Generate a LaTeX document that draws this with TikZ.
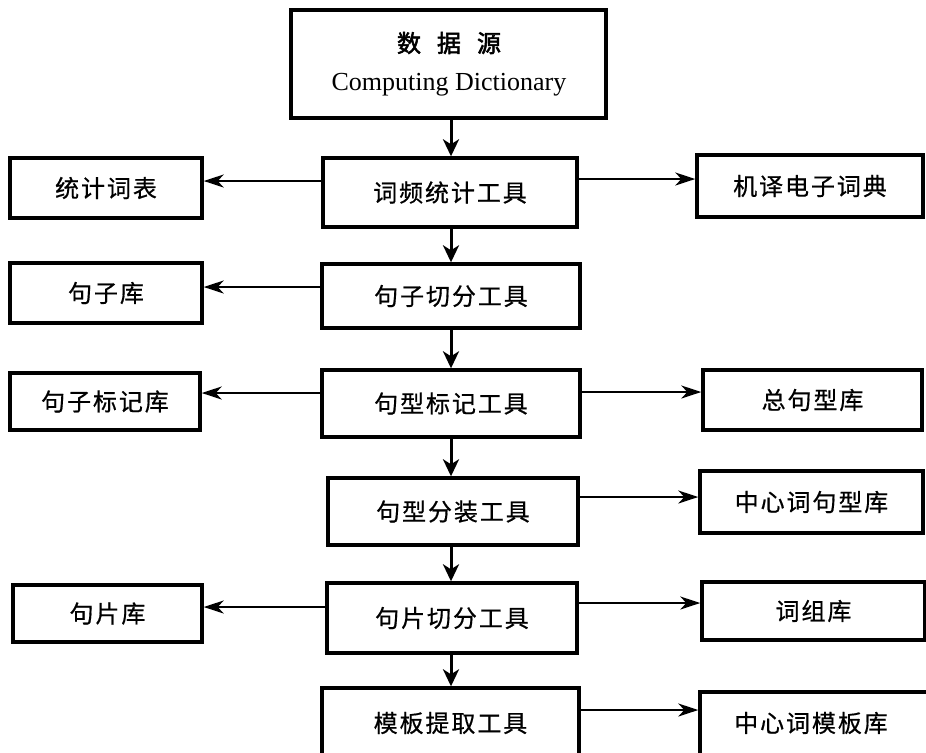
\documentclass[tikz,border=0pt]{standalone}
\usepackage{fontspec}
\setmainfont{Liberation Serif}
\newfontfamily\cjk[LetterSpace=8,FakeBold=0.6]{Noto Sans CJK SC}
\newfontfamily\cjkb[FakeBold=2.2]{Noto Sans CJK SC}
\usetikzlibrary{arrows.meta}
\begin{document}
\begin{tikzpicture}[x=0.5pt,y=-0.5pt,
  bx/.style n args={2}{draw, line width=1.7pt, inner sep=0pt,
    minimum width=#1*0.5pt, minimum height=#2*0.5pt,
    font=\fontsize{12}{14}\selectfont\cjk},
  lbl/.style={font=\fontsize{12}{14}\selectfont\cjk},
  harr/.style={-{Stealth[length=10pt,width=6.5pt,inset=3pt]}, line width=1pt},
  varr/.style={-{Stealth[length=8.5pt,width=8pt,inset=2.5pt]}, line width=1.5pt}]
\useasboundingbox (0,0) rectangle (926,752);
\fill[white] (0,0) rectangle (926,752);
% main column
\node[bx={315}{108}] (src) at (448.5,64) {};
\node[font=\fontsize{12}{14}\selectfont\cjkb] (srct) at (449,43) {数\hspace{8pt}据\hspace{8pt}源};
\node[font=\fontsize{13}{15}\selectfont] (srce) at (449,85) {Computing Dictionary};
\node[bx={254}{69}] (t1) at (450,192.5) {词频统计工具};
\node[bx={258}{64}] (t2) at (451,296) {句子切分工具};
\node[bx={258}{67}] (t3) at (451,403.5) {句型标记工具};
\node[bx={250}{67}] (t4) at (453,511.5) {句型分装工具};
\node[bx={250}{70}] (t5) at (452,618) {句片切分工具};
\node[bx={257}{74}] (t6) at (450.5,725) {};
\node[lbl] (t6t) at (450.5,723) {模板提取工具};
% left column
\node[bx={192}{60}] (l1) at (106,188) {统计词表};
\node[bx={192}{60}] (l2) at (106,293) {句子库};
\node[bx={190}{57}] (l3) at (105,401.5) {句子标记库};
\node[bx={189}{57}] (l5) at (107.5,613.5) {句片库};
% right column
\node[bx={226}{62}] (r1) at (810,186) {机译电子词典};
\node[bx={219}{60}] (r3) at (812.5,400) {总句型库};
\node[bx={223}{62}] (r4) at (811.5,502) {中心词句型库};
\node[bx={223}{58}] (r5) at (813.5,611) {词组库};
\node[bx={228}{74}] (r6) at (814,729) {};
\node[lbl] (r6t) at (811,723) {中心词模板库};
% vertical arrows
\coordinate (ax) at (451,0);
\draw[varr] (src.south -| ax) -- (t1.north -| ax);
\draw[varr] (t1.south -| ax) -- (t2.north -| ax);
\draw[varr] (t2.south -| ax) -- (t3.north -| ax);
\draw[varr] (t3.south -| ax) -- (t4.north -| ax);
\draw[varr] (t4.south -| ax) -- (t5.north -| ax);
\draw[varr] (t5.south -| ax) -- (t6.north -| ax);
% horizontal arrows
\draw[harr] (t1.west |- 0,181) -- (l1.east |- 0,181);
\draw[harr] (t1.east |- 0,179) -- (r1.west |- 0,179);
\draw[harr] (t2.west |- 0,287) -- (l2.east |- 0,287);
\draw[harr] (t3.west |- 0,393) -- (l3.east |- 0,393);
\draw[harr] (t3.east |- 0,392) -- (r3.west |- 0,392);
\draw[harr] (t4.east |- 0,497) -- (r4.west |- 0,497);
\draw[harr] (t5.west |- 0,607) -- (l5.east |- 0,607);
\draw[harr] (t5.east |- 0,603) -- (r5.west |- 0,603);
\draw[harr] (t6.east |- 0,710) -- (r6.west |- 0,710);
\end{tikzpicture}
\end{document}
